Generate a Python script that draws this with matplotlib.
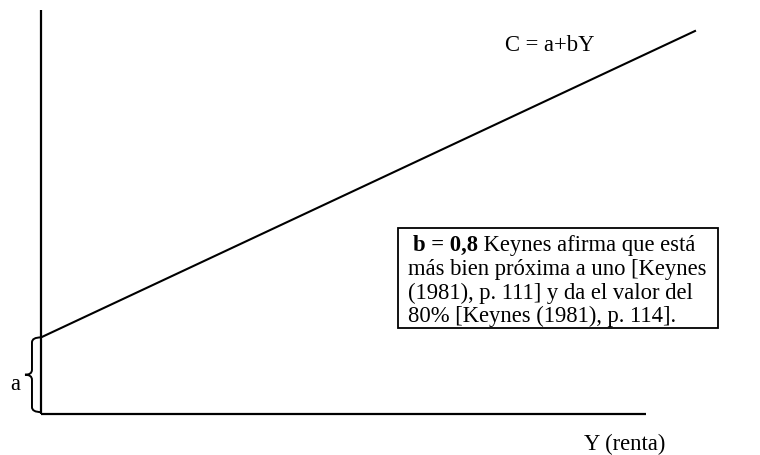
import numpy as np
import matplotlib.pyplot as plt
from matplotlib.path import Path
from matplotlib.patches import PathPatch, Rectangle

plt.rcParams['font.family'] = ['Liberation Serif', 'DejaVu Serif']

# consumption function C = a + bY
a = 20.0
b = 0.8
renta = [0.0, 100.0]
consumo = [a + b * y for y in renta]
y_axis_max = 92.5     # length of the Y (renta) axis
c_axis_max = 105.5    # length of the C axis

titulo_linea = "C = a+bY"
etiqueta_x = "Y (renta)"
etiqueta_a = "a"
nota_bold = "b = 0,8"
nota_lineas = [" Keynes afirma que está",
               "más bien próxima a uno [Keynes",
               "(1981), p. 111] y da el valor del",
               "80% [Keynes (1981), p. 114]."]

W, H = 760, 455
fig = plt.figure(figsize=(W / 100, H / 100), dpi=100)

# data axes: origin placed at pixel (41, 414)
sx, sy = 6.54, 3.83
ox, oy = 41, H - 414
ax = fig.add_axes([0, 0, 1, 1])
ax.set_xlim(-ox / sx, (W - ox) / sx)
ax.set_ylim(-oy / sy, (H - oy) / sy)
ax.axis('off')

ax.plot([0, 0], [0, c_axis_max], color='black', lw=1.6, solid_capstyle='butt')
ax.plot([0, y_axis_max], [0, 0], color='black', lw=1.6, solid_capstyle='butt')
ax.plot(renta, consumo, color='black', lw=1.5)

# brace for the intercept a
bx, tx = -1.38, -2.45
top, bot = a, 0.5
mid = (top + bot) / 2
verts = [(0, top), (bx, top), (bx, top - 1.3),
         (bx, mid + 1.3),
         (bx, mid), (tx, mid),
         (bx, mid), (bx, mid - 1.3),
         (bx, bot + 1.3),
         (bx, bot), (0, bot)]
codes = [Path.MOVETO, Path.CURVE3, Path.CURVE3,
         Path.LINETO,
         Path.CURVE3, Path.CURVE3,
         Path.CURVE3, Path.CURVE3,
         Path.LINETO,
         Path.CURVE3, Path.CURVE3]
ax.add_patch(PathPatch(Path(verts, codes), fill=False, lw=1.4, color='black'))

# pixel overlay for text
tx_ax = fig.add_axes([0, 0, 1, 1])
tx_ax.set_xlim(0, W)
tx_ax.set_ylim(H, 0)
tx_ax.axis('off')

fs = 16.3
tx_ax.text(505, 51, titulo_linea, fontsize=fs, va='baseline')
tx_ax.text(584, 450, etiqueta_x, fontsize=fs, va='baseline')
tx_ax.text(10, 390, etiqueta_a, fontsize=fs, va='baseline')

tx_ax.add_patch(Rectangle((398, 228), 320, 100, fill=False, lw=1.3, ec='black'))
t1 = tx_ax.text(413, 251, nota_bold, fontsize=fs, fontweight='bold', va='baseline')
tx_ax.annotate(nota_lineas[0], xy=(1, 0), xycoords=t1, fontsize=fs, va='bottom')
for i, linea in enumerate(nota_lineas[1:]):
    tx_ax.text(408, 275 + i * 23.5, linea, fontsize=fs, va='baseline')

fig.savefig('out.png', dpi=100)
